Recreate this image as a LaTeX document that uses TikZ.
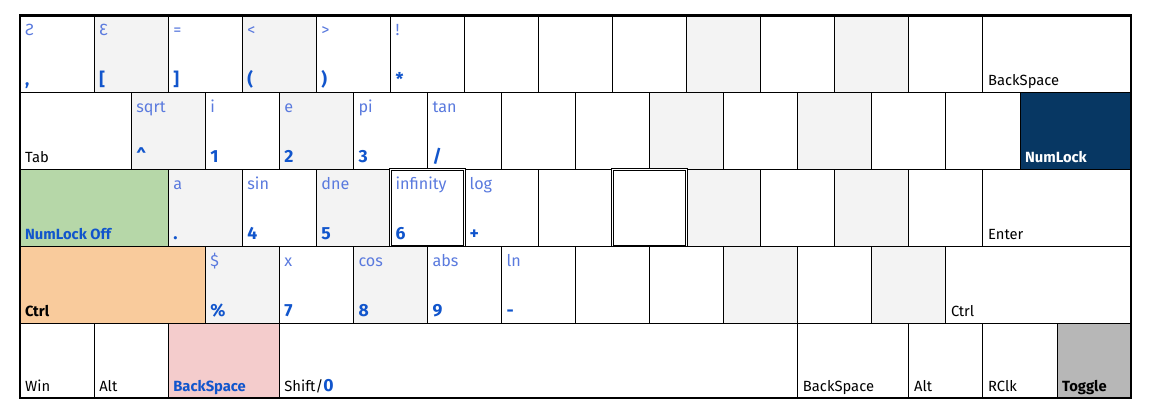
\documentclass[tikz,border=0pt]{standalone}
\usepackage{fontspec}
\setmainfont{Fira Sans}
\usepackage{tikz}

\definecolor{keygray}{HTML}{F3F3F3}
\definecolor{lockgreen}{HTML}{B6D7A8}
\definecolor{ctrlorange}{HTML}{F9CB9C}
\definecolor{bkpink}{HTML}{F4CCCC}
\definecolor{navy}{HTML}{073763}
\definecolor{togglegray}{HTML}{B7B7B7}
\definecolor{topblue}{RGB}{90,122,222}
\definecolor{numblue}{HTML}{1155CC}

\newcommand{\keyw}{1.8519cm}
\newcommand{\keyh}{1.925cm}
\newcommand{\keynum}[1]{{\fontsize{12.5}{14}\selectfont\bfseries\color{numblue}#1}}
\newcommand{\keyname}[1]{{\bfseries\color{numblue}#1}}

\tikzset{
  keycell/.style={draw, line width=0.6pt, anchor=north west, inner sep=0pt, outer sep=0pt,
    minimum width=#1*\keyw, minimum height=\keyh},
  keycell/.default=1,
  toptext/.style={anchor=base west, inner sep=0pt, text=topblue, font=\fontsize{11.5}{13}\selectfont},
  bottext/.style={anchor=base west, inner sep=0pt, font=\fontsize{10.5}{12}\selectfont},
  marked/.style={double, double distance=1.2pt, line width=0.6pt},
  lastrow/.style={minimum height=1.8625cm}
}

% name, x, row, width, fill, upper text, lower text
\newcommand{\kbkey}[7]{%
  \node[keycell=#4, #5] (#1) at (#2,#3) {};
  \node[toptext] (#1-top) at ([shift={(3.5pt,-14pt)}]#1.north west) {#6};
  \node[bottext] (#1-bot) at ([shift={(3.5pt,4.8pt)}]#1.south west) {#7};
}

\begin{document}
\begin{tikzpicture}[x=1.8519cm, y=-1.925cm]
        \useasboundingbox (-0.27,-0.2013) rectangle (15.256,5.1883);

        % Row 1
        \kbkey{comma}{0}{0}{1}{fill=white}{Ƨ}{\keynum{,}}
        \kbkey{lbrack}{1}{0}{1}{fill=keygray}{Ɛ}{\keynum{[}}
        \kbkey{rbrack}{2}{0}{1}{fill=white}{=}{\keynum{]}}
        \kbkey{lparen}{3}{0}{1}{fill=keygray}{<}{\keynum{(}}
        \kbkey{rparen}{4}{0}{1}{fill=white}{>}{\keynum{)}}
        \kbkey{star}{5}{0}{1}{fill=white}{!}{\keynum{*}}
        \foreach \x/\fc [count=\i] in {6/white,7/white,8/white,9/keygray,10/white,11/keygray,12/white}
            \node[keycell, fill=\fc] (blanka\i) at (\x,0) {};
        \kbkey{bksp}{13}{0}{2}{fill=white}{}{BackSpace}

        % Row 2
        \kbkey{tab}{0}{1}{1.5}{fill=white}{}{Tab}
        \kbkey{caret}{1.5}{1}{1}{fill=keygray}{sqrt}{\keynum{\textasciicircum}}
        \kbkey{one}{2.5}{1}{1}{fill=white}{i}{\keynum{1}}
        \kbkey{two}{3.5}{1}{1}{fill=keygray}{e}{\keynum{2}}
        \kbkey{three}{4.5}{1}{1}{fill=white}{pi}{\keynum{3}}
        \kbkey{slash}{5.5}{1}{1}{fill=white}{tan}{\keynum{/}}
        \foreach \x/\fc [count=\i] in {6.5/white,7.5/white,8.5/keygray,9.5/white,10.5/keygray,11.5/white,12.5/white}
            \node[keycell, fill=\fc] (blankb\i) at (\x,1) {};
        \kbkey{numlock}{13.5}{1}{1.5}{fill=navy}{}{\textbf{\color{white}NumLock}}

        % Row 3
        \kbkey{numoff}{0}{2}{2}{fill=lockgreen}{}{\keyname{NumLock Off}}
        \kbkey{dot}{2}{2}{1}{fill=keygray}{a}{\keynum{.}}
        \kbkey{four}{3}{2}{1}{fill=white}{sin}{\keynum{4}}
        \kbkey{five}{4}{2}{1}{fill=keygray}{dne}{\keynum{5}}
        \kbkey{plus}{6}{2}{1}{fill=white}{log}{\keynum{+}}
        \foreach \x/\fc [count=\i] in {7/white,9/keygray,10/white,11/keygray,12/white}
            \node[keycell, fill=\fc] (blankc\i) at (\x,2) {};
        \kbkey{enter}{13}{2}{2}{fill=white}{}{Enter}
        \kbkey{six}{5}{2}{1}{fill=white, marked}{infinity}{\keynum{6}}
        \node[keycell, fill=white, marked] (cursor) at (8,2) {};

        % Row 4
        \kbkey{lctrl}{0}{3}{2.5}{fill=ctrlorange}{}{\textbf{Ctrl}}
        \kbkey{percent}{2.5}{3}{1}{fill=keygray}{\$}{\keynum{\%}}
        \kbkey{seven}{3.5}{3}{1}{fill=white}{x}{\keynum{7}}
        \kbkey{eight}{4.5}{3}{1}{fill=keygray}{cos}{\keynum{8}}
        \kbkey{nine}{5.5}{3}{1}{fill=white}{abs}{\keynum{9}}
        \kbkey{minus}{6.5}{3}{1}{fill=white}{ln}{\keynum{-}}
        \foreach \x/\fc [count=\i] in {7.5/white,8.5/white,9.5/keygray,10.5/white,11.5/keygray}
            \node[keycell, fill=\fc] (blankd\i) at (\x,3) {};
        \kbkey{rctrl}{12.5}{3}{2.5}{fill=white}{}{Ctrl}

        % Row 5
        \kbkey{win}{0}{4}{1}{fill=white, lastrow}{}{Win}
        \kbkey{lalt}{1}{4}{1}{fill=white, lastrow}{}{Alt}
        \kbkey{lbksp}{2}{4}{1.5}{fill=bkpink, lastrow}{}{\keyname{BackSpace}}
        \kbkey{space}{3.5}{4}{7}{fill=white, lastrow}{}{Shift/\keynum{0}}
        \kbkey{rbksp}{10.5}{4}{1.5}{fill=white, lastrow}{}{BackSpace}
        \kbkey{ralt}{12}{4}{1}{fill=white, lastrow}{}{Alt}
        \kbkey{rclk}{13}{4}{1}{fill=white, lastrow}{}{RClk}
        \kbkey{toggle}{14}{4}{1}{fill=togglegray, lastrow}{}{\textbf{Toggle}}

        % Frame
        \draw[line width=1.8pt] (comma.north west) rectangle (toggle.south east);
    \end{tikzpicture}
\end{document}
